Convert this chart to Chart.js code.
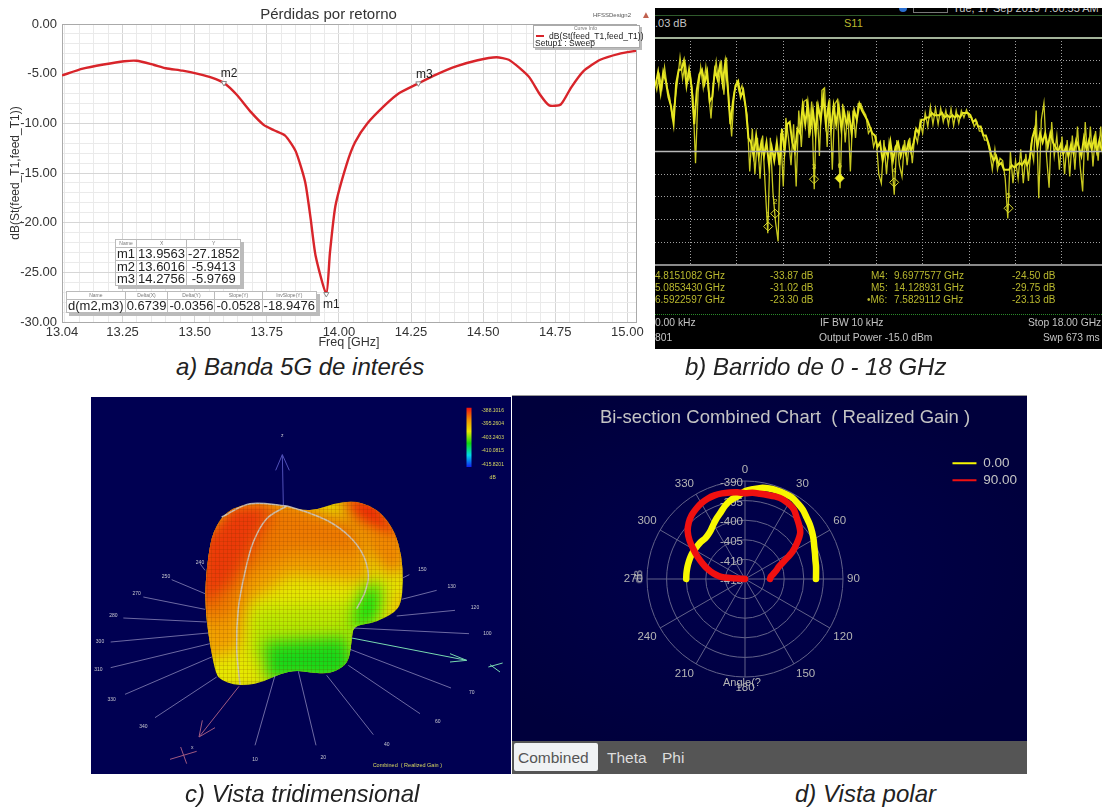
<!DOCTYPE html>
<html>
<head>
<meta charset="utf-8">
<title>Pérdidas por retorno</title>
<script src="https://cdn.jsdelivr.net/npm/chart.js@4/dist/chart.umd.js"></script>
<style>
html, body { margin: 0; background: #fff; }
body { position: relative; width: 1102px; height: 808px; overflow: hidden; font-family: "Liberation Sans", Arial, sans-serif; }
canvas { position: absolute; }
.t { position: absolute; white-space: nowrap; line-height: 1; }
.p { position: absolute; }
.cap { position: absolute; white-space: nowrap; font-style: italic; font-size: 24px; line-height: 1; color: #222; }
table.mk { position: absolute; border-collapse: collapse; background: #fff; box-shadow: 3px 3px 0 #bbb; font-size: 13px; color: #222; }
table.mk td, table.mk th { border: 1px solid #bbb; padding: 0 1px; line-height: 11.5px; text-align: center; white-space: nowrap; }
table.mk th { font-size: 5px; font-weight: normal; color: #777; line-height: 7px; }
.bt { position: absolute; white-space: nowrap; line-height: 1; font-size: 10px; color: #b9b82e; }
.bg { position: absolute; white-space: nowrap; line-height: 1; font-size: 10.3px; color: #c4c4c4; }
</style>
</head>
<body>

<!-- a) return loss -->
<canvas id="lossChart" width="650" height="350" style="left:0;top:0"></canvas>
<div class="t" style="left:593px;top:12px;font-size:6px;color:#555">HFSSDesign2</div>
<div class="t" style="left:641px;top:10px;font-size:10px;color:#c0604e">▲</div>
<div class="p" style="left:533px;top:25px;width:105px;height:21px;background:#fff;border:1px solid #aaa;box-shadow:2px 2px 0 #bbb"></div>
<div class="t" style="left:574px;top:26px;font-size:5px;color:#777">Curve Info</div>
<div class="p" style="left:536px;top:35px;width:8px;height:2px;background:#d8242a"></div>
<div class="t" style="left:549px;top:32px;font-size:8.5px;color:#222">dB(St(feed_T1,feed_T1))</div>
<div class="t" style="left:535px;top:39px;font-size:8.5px;color:#222">Setup1 : Sweep</div>
<table class="mk" style="left:115px;top:239px;width:125px">
  <tr><th style="width:24px">Name</th><th>X</th><th>Y</th></tr>
  <tr><td>m1</td><td>13.9563</td><td>-27.1852</td></tr>
  <tr><td>m2</td><td>13.6016</td><td>-5.9413</td></tr>
  <tr><td>m3</td><td>14.2756</td><td>-5.9769</td></tr>
</table>
<table class="mk" style="left:66px;top:291px;width:238px">
  <tr><th>Name</th><th>Delta(X)</th><th>Delta(Y)</th><th>Slope(Y)</th><th>InvSlope(Y)</th></tr>
  <tr><td>d(m2,m3)</td><td>0.6739</td><td>-0.0356</td><td>-0.0528</td><td>-18.9476</td></tr>
</table>

<!-- b) analyser sweep -->
<div class="p" style="left:655px;top:8px;width:447px;height:341px;background:#000"></div>
<div class="p" style="left:899px;top:8px;width:8px;height:4px;background:#2b6fd0;border-radius:0 0 4px 4px"></div>
<div class="p" style="left:913px;top:8px;width:33px;height:4px;border:1px solid #777;border-top:0"></div>
<div class="p" style="left:953px;top:8px;width:147px;height:6px;overflow:hidden"><div class="t" style="left:0;top:-5px;font-size:11px;color:#ccc">Tue, 17 Sep 2019 7:00:55 AM</div></div>
<div class="p" style="left:655px;top:15px;width:447px;height:1px;background:#2f5a2c"></div>
<div class="bg" style="left:655px;top:18px;font-size:11px">.03 dB</div>
<div class="bt" style="left:844px;top:18px;font-size:11px">S11</div>
<canvas id="sweepChart" width="447" height="227" style="left:655px;top:38px"></canvas>
<div class="p" style="left:655px;top:37px;width:447px;height:2px;background:#a3b39a"></div>
<div class="p" style="left:655px;top:264px;width:447px;height:2px;background:#8a8a8a"></div>
<div class="bt" style="left:655px;top:271px">4.8151082 GHz</div><div class="bt" style="left:770px;top:271px">-33.87 dB</div>
<div class="bt" style="left:871px;top:271px">M4:</div><div class="bt" style="left:894px;top:271px">9.6977577 GHz</div><div class="bt" style="left:1012px;top:271px">-24.50 dB</div>
<div class="bt" style="left:655px;top:283px">5.0853430 GHz</div><div class="bt" style="left:770px;top:283px">-31.02 dB</div>
<div class="bt" style="left:871px;top:283px">M5:</div><div class="bt" style="left:894px;top:283px">14.128931 GHz</div><div class="bt" style="left:1012px;top:283px">-29.75 dB</div>
<div class="bt" style="left:655px;top:295px">6.5922597 GHz</div><div class="bt" style="left:770px;top:295px">-23.30 dB</div>
<div class="bt" style="left:867px;top:295px">•M6:</div><div class="bt" style="left:894px;top:295px">7.5829112 GHz</div><div class="bt" style="left:1012px;top:295px">-23.13 dB</div>
<div class="p" style="left:655px;top:314px;width:447px;height:0;border-top:1px dotted #2a8a2a"></div>
<div class="bg" style="left:655px;top:318px">0.00 kHz</div><div class="bg" style="left:820px;top:318px">IF BW 10 kHz</div><div class="bg" style="left:1028px;top:318px">Stop 18.00 GHz</div>
<div class="bg" style="left:655px;top:333px">801</div><div class="bg" style="left:819px;top:333px">Output Power -15.0 dBm</div><div class="bg" style="left:1043px;top:333px">Swp 673 ms</div>

<!-- c) 3D pattern -->
<div class="p" style="left:91px;top:397px;width:420px;height:377px;background:#000052"></div>
<canvas id="lobeChart" width="420" height="377" style="left:91px;top:397px"></canvas>
<canvas id="axesChart" width="420" height="377" style="left:91px;top:397px"></canvas>

<!-- d) polar cut -->
<div class="p" style="left:512px;top:395px;width:515px;height:346px;background:radial-gradient(ellipse at 45% 50%,#00004e 0%,#00003c 80%);border-top:1px solid #999;box-sizing:border-box"></div>
<canvas id="polarChart" width="515" height="346" style="left:512px;top:395px"></canvas>
<div class="t" style="left:723px;top:677px;font-size:11px;color:#b4b4b4">Angle(?</div>
<div class="t" style="left:632px;top:571px;font-size:11px;color:#b4b4b4;transform:rotate(-90deg)">dB</div>
<div class="p" style="left:512px;top:741px;width:515px;height:33px;background:#555"></div>
<div class="p" style="left:514px;top:743px;width:84px;height:28px;background:#f0f2f4;border-radius:2px"></div>
<div class="t" style="left:518px;top:750px;font-size:15.5px;color:#555">Combined</div>
<div class="t" style="left:607px;top:750px;font-size:15.5px;color:#ddd">Theta</div>
<div class="t" style="left:662px;top:750px;font-size:15.5px;color:#ddd">Phi</div>

<div class="cap" style="left:176px;top:355px">a) Banda 5G de interés</div>
<div class="cap" style="left:685px;top:355px">b) Barrido de 0 - 18 GHz</div>
<div class="cap" style="left:185px;top:782px">c) Vista tridimensional</div>
<div class="cap" style="left:795px;top:782px">d) Vista polar</div>

<script>
// a) return loss
const freqGHz = [13.04, 13.112, 13.184, 13.256, 13.299, 13.357, 13.40, 13.458, 13.515, 13.559, 13.6016, 13.645, 13.696, 13.739, 13.775, 13.814, 13.85, 13.883, 13.902, 13.919, 13.9563, 13.969, 13.988, 14.027, 14.056, 14.099, 14.157, 14.207, 14.2756, 14.337, 14.409, 14.481, 14.546, 14.589, 14.625, 14.661, 14.697, 14.729, 14.769, 14.805, 14.848, 14.906, 14.971, 15.033];
const returnLossDb = [-5.18, -4.5, -4.08, -3.75, -3.7, -4.1, -4.45, -4.7, -5.05, -5.4, -5.94, -7.1, -8.9, -10.15, -10.7, -11.25, -12.8, -15.9, -19.6, -23.3, -27.19, -23, -18.3, -14.1, -11.9, -10.0, -8.25, -7.0, -5.98, -5.1, -4.25, -3.65, -3.35, -3.6, -4.4, -5.4, -7.1, -8.2, -8.1, -6.4, -4.75, -3.6, -3.0, -2.68];
const lossMarkerNames = ['m1', 'm2', 'm3'];
const lossMarkerGHz = [13.9563, 13.6016, 14.2756];
const lossMarkerDb = [-27.1852, -5.9413, -5.9769];
const freqTicks = [13.04, 13.25, 13.50, 13.75, 14.00, 14.25, 14.50, 14.75, 15.00];
const lossTicks = [0, -5, -10, -15, -20, -25, -30];

// b) S11 sweep, readings every 0.05 GHz split into two passes
const sweepGHz = [0.4, 0.5, 0.6, 0.7, 0.8, 0.9, 1.0, 1.1, 1.2, 1.3, 1.4, 1.5, 1.6, 1.7, 1.8, 1.9, 2.0, 2.1, 2.2, 2.3, 2.4, 2.5, 2.6, 2.7, 2.8, 2.9, 3.0, 3.1, 3.2, 3.3, 3.4, 3.5, 3.6, 3.7, 3.8, 3.9, 4.0, 4.1, 4.2, 4.3, 4.4, 4.5, 4.6, 4.7, 4.8, 4.9, 5.0, 5.1, 5.2, 5.3, 5.4, 5.5, 5.6, 5.7, 5.8, 5.9, 6.0, 6.1, 6.2, 6.3, 6.4, 6.5, 6.6, 6.7, 6.8, 6.9, 7.0, 7.1, 7.2, 7.3, 7.4, 7.5, 7.6, 7.7, 7.8, 7.9, 8.0, 8.1, 8.2, 8.3, 8.4, 8.5, 8.6, 8.7, 8.8, 8.9, 9.0, 9.1, 9.2, 9.3, 9.4, 9.5, 9.6, 9.7, 9.8, 9.9, 10.0, 10.1, 10.2, 10.3, 10.4, 10.5, 10.6, 10.7, 10.8, 10.9, 11.0, 11.1, 11.2, 11.3, 11.4, 11.5, 11.6, 11.7, 11.8, 11.9, 12.0, 12.1, 12.2, 12.3, 12.4, 12.5, 12.6, 12.7, 12.8, 12.9, 13.0, 13.1, 13.2, 13.3, 13.4, 13.5, 13.6, 13.7, 13.8, 13.9, 14.0, 14.1, 14.2, 14.3, 14.4, 14.5, 14.6, 14.7, 14.8, 14.9, 15.0, 15.1, 15.2, 15.3, 15.4, 15.5, 15.6, 15.7, 15.8, 15.9, 16.0, 16.1, 16.2, 16.3, 16.4, 16.5, 16.6, 16.7, 16.8, 16.9, 17.0, 17.1, 17.2, 17.3, 17.4, 17.5, 17.6, 17.7, 17.8];
const sweepDb = [1.0, -1.5, 1.8, -1.0, 3.6, -0.8, -3.2, -7.5, -4.0, 0.4, 5.8, 1.0, 4.5, 0.5, 2.0, -3.0, -17.6, -2.0, 3.6, -1.0, 3.7, -1.5, -7.7, 0.4, 4.8, -0.5, 5.0, -2.5, 5.7, -4.7, -11.7, -2.0, 0.4, -2.0, -0.5, -4.0, -7.0, -19.4, -10, -20, -12, -21, -11.5, -22.7, -33, -12, -24, -30.5, -34.8, -11, -22.7, -7.6, -12, -18, -9, -22.7, -6, -14, -4, -3.6, -12, -4, -23.3, -4, -16, -1.5, -1, -14, -3.5, -19, -4.5, -3.6, -23.1, -4.5, -13, -6, -19.4, -6, -12, -4.5, -4.4, -6, -7, -11, -10, -14, -12, -20, -22, -12.5, -20, -13, -17, -24.5, -12.5, -18, -20.5, -12.5, -18, -12, -17.6, -11, -13, -8.5, -11, -6.5, -9.5, -5.1, -9, -5.5, -9, -5.5, -8.5, -6, -9.2, -5.6, -9.3, -6, -8.8, -6, -7.5, -5.8, -7.5, -7.5, -9.5, -8.5, -10.5, -10.5, -12.5, -12.5, -15, -19, -14.5, -19, -16.5, -17, -21, -29.75, -15, -22, -17, -21, -14.5, -22, -15.5, -21.5, -14, -17, -6, -25.3, -8, -4.3, -16, -23, -8.5, -16, -11.5, -19, -11.7, -20, -12.5, -20.5, -11.5, -19, -9.5, -18, -23.8, -8.5, -17, -9.5, -18.3, -10.5, -17, -9.5, -18];
const sweepFineGHz = [0.45, 0.55, 0.65, 0.75, 0.85, 0.95, 1.05, 1.15, 1.25, 1.35, 1.45, 1.55, 1.65, 1.75, 1.85, 1.95, 2.05, 2.15, 2.25, 2.35, 2.45, 2.55, 2.65, 2.75, 2.85, 2.95, 3.05, 3.15, 3.25, 3.35, 3.45, 3.55, 3.65, 3.75, 3.85, 3.95, 4.05, 4.15, 4.25, 4.35, 4.45, 4.55, 4.65, 4.75, 4.85, 4.95, 5.05, 5.15, 5.25, 5.35, 5.45, 5.55, 5.65, 5.75, 5.85, 5.95, 6.05, 6.15, 6.25, 6.35, 6.45, 6.55, 6.65, 6.75, 6.85, 6.95, 7.05, 7.15, 7.25, 7.35, 7.45, 7.55, 7.65, 7.75, 7.85, 7.95, 8.05, 8.15, 8.25, 8.35, 8.45, 8.55, 8.65, 8.75, 8.85, 8.95, 9.05, 9.15, 9.25, 9.35, 9.45, 9.55, 9.65, 9.75, 9.85, 9.95, 10.05, 10.15, 10.25, 10.35, 10.45, 10.55, 10.65, 10.75, 10.85, 10.95, 11.05, 11.15, 11.25, 11.35, 11.45, 11.55, 11.65, 11.75, 11.85, 11.95, 12.05, 12.15, 12.25, 12.35, 12.45, 12.55, 12.65, 12.75, 12.85, 12.95, 13.05, 13.15, 13.25, 13.35, 13.45, 13.55, 13.65, 13.75, 13.85, 13.95, 14.05, 14.15, 14.25, 14.35, 14.45, 14.55, 14.65, 14.75, 14.85, 14.95, 15.05, 15.15, 15.25, 15.35, 15.45, 15.55, 15.65, 15.75, 15.85, 15.95, 16.05, 16.15, 16.25, 16.35, 16.45, 16.55, 16.65, 16.75, 16.85, 16.95, 17.05, 17.15, 17.25, 17.35, 17.45, 17.55, 17.65, 17.75];
const sweepFineDb = [-0.5, 2.5, -2, 2.5, 0.5, -3, -5, -8.8, 0, 3, 3, 5, -0.5, 3, -1, -9, -1.5, 2, 3, 0, 2.5, -4, -3, 3, 1, 4, 0, 4.5, -1, -9, -4, -0.5, 0.5, -3, -1.5, -5.5, -12, -13, -16, -11.5, -16, -13, -16, -13, -18, -14, -17, -13, -18, -10, -15, -9, -8.5, -13, -15, -10, -11, -5, -9, -4.5, -10, -6, -11, -5, -8, -3, -9, -5, -10, -5, -9, -5, -10, -6, -9, -7, -11, -6, -8, -4.5, -6, -7, -8, -9.5, -11, -11.5, -14, -13, -17, -14.5, -16, -12.8, -17, -14, -13, -16, -14, -15.5, -13, -15, -13, -10, -11, -8, -8, -7.5, -7.5, -6.5, -7, -7, -7, -6.5, -7.5, -7, -7.5, -7, -7.5, -7, -7.5, -6.5, -6.5, -6.5, -7, -8.5, -8, -9.5, -9.5, -11.5, -11.5, -13.2, -15.5, -17, -16, -18, -17.5, -19, -19, -19, -18, -18.5, -18, -17.5, -18, -17, -18, -16.5, -12, -10, -14, -11, -13, -11, -14, -11, -13, -14, -15, -13.5, -15.5, -14, -16, -13.5, -15.5, -12.5, -14, -16, -12, -14.5, -12.5, -14.5, -12, -15, -12.5, -15];
const sweepMarkerNames = ['1', '2', '3', '4', '5', '6'];
const sweepMarkerGHz = [4.815, 5.085, 6.592, 9.698, 14.129, 7.583];
const sweepMarkerDb = [-31.5, -28.7, -21.1, -21.8, -27.5, -20.9];
const sweepGridGHz = [1.8, 3.6, 5.4, 7.2, 9, 10.8, 12.6, 14.4, 16.2];

// c) 3D pattern, traced in crop units
const lobeX = [360, 370, 395, 430, 480, 540, 585, 640, 680, 730, 790, 840, 880, 915, 935, 940, 933, 915, 880, 840, 790, 785, 778, 760, 720, 660, 620, 570, 520, 470, 430, 395, 378, 362, 350, 345, 350];
const lobeY = [450, 410, 365, 338, 325, 325, 332, 345, 343, 325, 317, 330, 360, 410, 480, 560, 625, 650, 670, 685, 692, 735, 790, 815, 835, 832, 825, 835, 860, 870, 868, 855, 838, 760, 680, 600, 520];
const lobePatches = [
  { color: '#e6e800', x: [300, 980, 980, 300], y: [280, 280, 900, 900] },
  { color: '#f2a000', x: [330, 600, 830, 840, 600, 480, 450, 330], y: [560, 420, 440, 560, 540, 620, 760, 800] },
  { color: '#ee7a00', x: [330, 590, 800, 830, 610, 470, 430, 330], y: [440, 310, 380, 480, 470, 540, 660, 690] },
  { color: '#ec3a08', x: [330, 420, 560, 500, 430, 330], y: [440, 320, 320, 440, 560, 640] },
  { color: '#ee2a05', x: [740, 860, 950, 900, 800], y: [300, 300, 430, 460, 380] },
  { color: '#f08800', x: [790, 950, 955, 890, 835], y: [390, 420, 520, 540, 470] },
  { color: '#f2b000', x: [920, 950, 900], y: [570, 650, 665] },
  { color: '#b8e800', x: [490, 800, 800, 480], y: [640, 620, 780, 790] },
  { color: '#18d818', x: [520, 770, 800, 720, 620, 530], y: [740, 725, 830, 860, 850, 860] },
  { color: '#10e010', x: [785, 800, 835, 875, 865, 820], y: [705, 620, 565, 575, 670, 705] }
];
const sectionCurves = [
  { x: [590, 530, 490, 465, 445, 440, 450], y: [332, 370, 440, 530, 640, 760, 868] },
  { x: [590, 650, 720, 780, 820, 835, 825, 800], y: [332, 350, 380, 425, 480, 540, 590, 640] },
  { x: [395, 480, 590], y: [365, 325, 332] }
];
const spokes = [
  [330, 345, 505, 525], [245, 345, 553, 595], [160, 345, 605, 642], [100, 350, 668, 680], [62, 355, 740, 713], [62, 360, 817, 745], [105, 365, 897, 785], [195, 380, 967, 845],
  [495, 555, 1050, 840], [678, 625, 1050, 828], [850, 710, 1018, 840], [990, 775, 955, 810], [1083, 780, 878, 762], [1137, 790, 715, 698], [1095, 920, 645, 662], [1040, 935, 585, 612], [958, 938, 538, 548]
];
const spokeNames = ['240', '250', '270', '280', '300', '310', '330', '340', '10', '20', '40', '60', '70', '100', '120', '130', '150'];
const spokeNameX = [330, 228, 140, 70, 30, 25, 65, 160, 495, 700, 890, 1043, 1145, 1192, 1155, 1085, 997];
const spokeNameY = [503, 543, 596, 662, 738, 823, 913, 993, 1092, 1088, 1048, 980, 893, 715, 638, 573, 523];
const scaleNames = ['-388.1016', '-395.2604', '-403.2403', '-410.0815', '-415.8201', 'dB'];
const scaleNameY = [45, 86, 126, 167, 207, 248];

// d) polar cut, 5 degree steps, gap behind the antenna
const polarAngles = ['0', '5', '10', '15', '20', '25', '30', '35', '40', '45', '50', '55', '60', '65', '70', '75', '80', '85', '90', '95', '100', '105', '110', '115', '120', '125', '130', '135', '140', '145', '150', '155', '160', '165', '170', '175', '180', '185', '190', '195', '200', '205', '210', '215', '220', '225', '230', '235', '240', '245', '250', '255', '260', '265', '270', '275', '280', '285', '290', '295', '300', '305', '310', '315', '320', '325', '330', '335', '340', '345', '350', '355'];
const cutZeroFront = [-392.6, -392.0, -391.4, -391.1, -391.0, -391.0, -391.0, -391.5, -392.0, -392.8, -393.4, -394.1, -394.8, -395.5, -396.0, -396.4, -396.6, -396.8, -396.9];
const cutZeroBack = [-400, -400, -400, -400, -400, -400, -400.1, -400.2, -400.3, -400.5, -400.3, -399.8, -398.9, -397.9, -396.9, -395.6, -394.5, -393.8];
const cutNinetyFront = [-393.1, -392.9, -392.9, -392.8, -392.6, -392.5, -392.8, -393.3, -394.5, -395.5, -396.6, -398.7, -401, -403.8, -405.8, -406.8, -407.7, -408.4, -408.6];
const cutNinetyBack = [-415, -409, -406.8, -405.1, -403.5, -401.7, -399.8, -397.7, -395.9, -394.7, -393.8, -393.2, -392.7, -392.4, -392.3, -392.4, -392.6, -392.8];
const polarRings = [-390, -395, -400, -405, -410, -415];

const sansFont = '"Liberation Sans", Arial, sans-serif';

const notes = {
  id: 'notes',
  afterDatasetsDraw(chart, args, opts) {
    const { ctx, scales } = chart;
    (opts.items || []).forEach(n => {
      ctx.save();
      ctx.font = n.font || opts.font;
      ctx.fillStyle = n.color || opts.color;
      ctx.textAlign = 'center';
      ctx.textBaseline = 'middle';
      ctx.fillText(n.text, scales.x.getPixelForValue(n.x) + (n.dx || 0), scales.y.getPixelForValue(n.y) + (n.dy || 0));
      ctx.restore();
    });
  }
};

// a) ----------------------------------------------------------------
const freqAll = [13.04, 15.03];
for (let i = 0; i < 40; i++) freqAll.push(13.05 + i * 0.05);
const lossAll = [];
for (let i = 0; i <= 30; i++) lossAll.push(-i);

new Chart(document.getElementById('lossChart'), {
  type: 'line',
  data: {
    datasets: [
      {
        label: 'markers',
        data: lossMarkerGHz.map((x, i) => ({ x, y: lossMarkerDb[i] })),
        showLine: false,
        pointStyle: 'triangle',
        rotation: 180,
        pointRadius: 3,
        pointBorderColor: '#888',
        pointBackgroundColor: '#fff',
        pointBorderWidth: 1
      },
      {
        label: 'dB(St(feed_T1,feed_T1))',
        data: freqGHz.map((x, i) => ({ x, y: returnLossDb[i] })),
        borderColor: '#d8242a',
        borderWidth: 2.4,
        pointRadius: 0,
        tension: 0.2
      }
    ]
  },
  options: {
    responsive: false,
    animation: false,
    layout: { autoPadding: false, padding: { right: 14, top: 24 } },
    plugins: {
      legend: { display: false },
      tooltip: { enabled: false },
      notes: {
        font: '12px ' + sansFont,
        color: '#222',
        items: [
          { text: lossMarkerNames[0], x: lossMarkerGHz[0], y: lossMarkerDb[0], dx: 5, dy: 11 },
          { text: lossMarkerNames[1], x: lossMarkerGHz[1], y: lossMarkerDb[1], dx: 5, dy: -9 },
          { text: lossMarkerNames[2], x: lossMarkerGHz[2], y: lossMarkerDb[2], dx: 6, dy: -9 },
          { text: 'Pérdidas por retorno', x: 13.964, y: 0, dy: -9, font: '15px ' + sansFont, color: '#333' }
        ]
      }
    },
    scales: {
      x: {
        type: 'linear',
        min: 13.04,
        max: 15.03,
        afterFit: s => { s.height = 28; },
        afterBuildTicks: s => { s.ticks = freqAll.map(value => ({ value: +value.toFixed(2) })); },
        grid: {
          color: c => (c.tick.value === 15.03 ? '#aaa' : freqTicks.includes(c.tick.value) ? '#d6d6d6' : '#eaeaea'),
          drawTicks: false
        },
        border: { color: '#aaa' },
        title: { display: true, text: 'Freq [GHz]', color: '#333', font: { family: sansFont, size: 12.5 }, padding: 0 },
        ticks: {
          autoSkip: false,
          maxRotation: 0,
          padding: 3,
          color: '#333',
          font: { family: sansFont, size: 13 },
          callback: v => (freqTicks.includes(v) ? v.toFixed(2) : '')
        }
      },
      y: {
        min: -30,
        max: 0,
        afterFit: s => { s.width = 62; },
        afterBuildTicks: s => { s.ticks = lossAll.map(value => ({ value })); },
        grid: {
          color: c => (c.tick.value === 0 ? '#aaa' : lossTicks.includes(c.tick.value) ? '#d6d6d6' : '#eaeaea'),
          drawTicks: false
        },
        border: { color: '#aaa' },
        title: { display: true, text: 'dB(St(feed_T1,feed_T1))', color: '#333', font: { family: sansFont, size: 12 }, padding: { top: 8, bottom: 0 } },
        ticks: {
          autoSkip: false,
          padding: 5,
          color: '#333',
          font: { family: sansFont, size: 13 },
          callback: v => (lossTicks.includes(v) ? v.toFixed(2) : '')
        }
      }
    }
  },
  plugins: [notes]
});

// b) ----------------------------------------------------------------
new Chart(document.getElementById('sweepChart'), {
  type: 'line',
  data: {
    datasets: [
      {
        label: 'ref',
        data: [{ x: 0.43, y: -15 }, { x: 17.75, y: -15 }],
        borderColor: '#b8b8b8',
        borderWidth: 1.5,
        pointRadius: 0,
        order: 0
      },
      {
        label: 'markers',
        data: sweepMarkerGHz.map((x, i) => ({ x, y: sweepMarkerDb[i] })),
        showLine: false,
        pointStyle: 'rectRot',
        pointRadius: 4.5,
        pointBorderWidth: 1,
        pointBorderColor: '#dcdc30',
        pointBackgroundColor: ['transparent', 'transparent', 'transparent', 'transparent', 'transparent', '#f0f020'],
        order: 1
      },
      {
        label: 'S11 band',
        data: sweepFineGHz.map((x, i) => ({ x, y: sweepFineDb[i] })),
        borderColor: '#e6e622',
        borderWidth: 2,
        pointRadius: 0,
        order: 2
      },
      {
        label: 'S11',
        data: sweepGHz.map((x, i) => ({ x, y: sweepDb[i] })),
        borderColor: '#c8c820',
        borderWidth: 1.3,
        pointRadius: 0,
        order: 3
      }
    ]
  },
  options: {
    responsive: false,
    animation: false,
    layout: { autoPadding: false },
    plugins: {
      legend: { display: false },
      tooltip: { enabled: false },
      notes: {
        font: '8px ' + sansFont,
        color: '#d8d830',
        items: sweepMarkerNames.map((text, i) => ({ text, x: sweepMarkerGHz[i], y: sweepMarkerDb[i], dy: -12 }))
      }
    },
    scales: {
      x: {
        type: 'linear',
        min: 0.43,
        max: 17.75,
        afterBuildTicks: s => { s.ticks = sweepGridGHz.map(value => ({ value })); },
        grid: { color: '#a0a0a0', drawTicks: false },
        border: { display: false, dash: [1, 2] },
        ticks: { display: false }
      },
      y: {
        min: -40,
        max: 10,
        grid: { color: '#a0a0a0', drawTicks: false },
        border: { display: false, dash: [1, 2] },
        ticks: { display: false, stepSize: 5 }
      }
    }
  },
  plugins: [notes]
});

// c) ----------------------------------------------------------------
const cropScales = {
  x: { type: 'linear', display: false, min: 3, max: 1263 },
  y: { type: 'linear', display: false, min: 5, max: 1136, reverse: true }
};

// smooth closed path through the traced outline
function tracePath(chart) {
  const { ctx, scales } = chart;
  const pts = lobeX.map((x, i) => [scales.x.getPixelForValue(x), scales.y.getPixelForValue(lobeY[i])]);
  const mid = (a, b) => [(a[0] + b[0]) / 2, (a[1] + b[1]) / 2];
  let m = mid(pts[pts.length - 1], pts[0]);
  ctx.beginPath();
  ctx.moveTo(m[0], m[1]);
  pts.forEach((p, i) => {
    m = mid(p, pts[(i + 1) % pts.length]);
    ctx.quadraticCurveTo(p[0], p[1], m[0], m[1]);
  });
  ctx.closePath();
}

// soft colour zones, kept inside the lobe outline
const softClip = {
  id: 'softClip',
  beforeDatasetsDraw(chart) {
    chart.ctx.save();
    tracePath(chart);
    chart.ctx.clip();
    chart.ctx.filter = 'blur(8px)';
  },
  afterDatasetsDraw(chart) {
    chart.ctx.restore();
  }
};

new Chart(document.getElementById('lobeChart'), {
  type: 'scatter',
  data: {
    datasets: lobePatches.slice().reverse().map(p => ({
      data: p.x.map((x, i) => ({ x, y: p.y[i] })),
      showLine: true,
      fill: 'shape',
      backgroundColor: p.color,
      borderWidth: 0,
      pointRadius: 0
    }))
  },
  options: {
    responsive: false,
    animation: false,
    layout: { autoPadding: false },
    plugins: { legend: { display: false }, tooltip: { enabled: false } },
    scales: cropScales
  },
  plugins: [softClip]
});

const meshTile = document.createElement('canvas');
meshTile.width = 4;
meshTile.height = 4;
const tileCtx = meshTile.getContext('2d');
tileCtx.fillStyle = 'rgba(110,50,0,0.15)';
tileCtx.fillRect(0, 0, 4, 1);
tileCtx.fillRect(0, 0, 1, 4);
const meshPattern = tileCtx.createPattern(meshTile, 'repeat');

const scaleBar = document.getElementById('axesChart').getContext('2d').createLinearGradient(0, 10.7, 0, 70);
['#f01010', '#f09000', '#e8e800', '#10d810', '#00d8e8', '#1020f0'].forEach((col, i) => scaleBar.addColorStop(i / 5, col));

function polySet(xs, ys, color, width) {
  return {
    data: xs.map((x, i) => ({ x, y: ys[i] })),
    showLine: true,
    borderColor: color,
    borderWidth: width,
    pointRadius: 0
  };
}

const axesSets = [
  {
    data: lobeX.map((x, i) => ({ x, y: lobeY[i] })),
    showLine: true,
    fill: 'shape',
    tension: 0.4,
    backgroundColor: meshPattern,
    borderWidth: 0,
    pointRadius: 0
  }
];
sectionCurves.forEach(c => axesSets.push({ ...polySet(c.x, c.y, 'rgba(205,200,190,0.9)', 1.5), tension: 0.35 }));
spokes.forEach(s => axesSets.push(polySet([s[0], s[1]], [s[2], s[3]], 'rgba(170,165,210,0.8)', 0.8)));
axesSets.push(polySet([580, 577], [330, 178], '#4f4fb8', 1));
axesSets.push(polySet([557, 577, 598], [225, 178, 225], '#4f4fb8', 1));
axesSets.push(polySet([447, 327], [873, 1025], '#a05a80', 1));
axesSets.push(polySet([375, 327, 337], [997, 1025, 975], '#a05a80', 1));
axesSets.push(polySet([785, 1130], [728, 795], '#78d8b0', 1));
axesSets.push(polySet([1080, 1130, 1080], [775, 795, 800], '#78d8b0', 1));
axesSets.push(polySet([240, 320], [1092, 1068], '#a05a80', 1));
axesSets.push(polySet([272, 290], [1055, 1105], '#a05a80', 1));
axesSets.push(polySet([1195, 1238], [815, 803], '#78d8b0', 1));
axesSets.push(polySet([1200, 1230], [808, 830], '#78d8b0', 1));
axesSets.push(polySet([1137, 1137], [37, 215], scaleBar, 5));

const cropNotes = spokeNames.map((text, i) => ({ text, x: spokeNameX[i], y: spokeNameY[i], color: '#c8c8d0' }));
scaleNames.forEach((text, i) => cropNotes.push({ text, x: 1208, y: scaleNameY[i], color: '#d8d860' }));
cropNotes.push({ text: 'z', x: 577, y: 122, color: '#c8c8d0' });
cropNotes.push({ text: 'x', x: 307, y: 1057, color: '#c8c8d0' });
cropNotes.push({ text: 'Combined  ( Realized Gain )', x: 952, y: 1110, color: '#d8d860', font: '5.5px ' + sansFont });

new Chart(document.getElementById('axesChart'), {
  type: 'scatter',
  data: { datasets: axesSets },
  options: {
    responsive: false,
    animation: false,
    layout: { autoPadding: false },
    plugins: {
      legend: { display: false },
      tooltip: { enabled: false },
      notes: { font: '5px ' + sansFont, color: '#c8c8d0', items: cropNotes }
    },
    scales: cropScales
  },
  plugins: [notes]
});

// d) ----------------------------------------------------------------
const rearGap = polarAngles.length - cutZeroFront.length - cutZeroBack.length;

const ringLabels = {
  id: 'ringLabels',
  beforeDatasetsDraw(chart) {
    const { ctx } = chart;
    const r = chart.scales.r;
    ctx.save();
    ctx.font = '18.5px ' + sansFont;
    ctx.fillStyle = '#c4c4c4';
    ctx.textAlign = 'center';
    ctx.textBaseline = 'middle';
    ctx.fillText('Bi-section Combined Chart  ( Realized Gain )', 273, 23);
    ctx.font = '11.5px ' + sansFont;
    ctx.fillStyle = '#b4b4b4';
    ctx.textAlign = 'right';
    polarRings.forEach(v => {
      const p = r.getPointPositionForValue(0, v);
      ctx.fillText(String(v), p.x - 2, p.y + 2);
    });
    ctx.restore();
  }
};

new Chart(document.getElementById('polarChart'), {
  type: 'radar',
  data: {
    labels: polarAngles,
    datasets: [
      {
        label: '0.00',
        data: [...cutZeroFront, ...new Array(rearGap).fill(null), ...cutZeroBack],
        borderColor: '#f8f800',
        backgroundColor: '#f8f800',
        borderWidth: 6.5,
        borderCapStyle: 'round',
        pointRadius: 0,
        tension: 0.3,
        fill: false,
        order: 2
      },
      {
        label: '90.00',
        data: [...cutNinetyFront, ...new Array(rearGap).fill(null), ...cutNinetyBack],
        borderColor: '#f01010',
        backgroundColor: '#f01010',
        borderWidth: 6.5,
        borderCapStyle: 'round',
        pointRadius: 0,
        tension: 0.3,
        fill: false,
        order: 1
      }
    ]
  },
  options: {
    responsive: false,
    animation: false,
    layout: { autoPadding: false, padding: { left: 30, top: 58, bottom: 46 } },
    plugins: {
      tooltip: { enabled: false },
      // empty spacer box: pushes the plot down without moving the legend
      title: { display: true, text: '', fullSize: false, font: { size: 1 }, padding: { top: 9, bottom: 0 } },
      legend: {
        position: 'right',
        align: 'start',
        fullSize: true,
        labels: {
          color: '#c4c4c4',
          padding: 3.5,
          font: { family: sansFont, size: 13.5 },
          sort: (a, b) => a.datasetIndex - b.datasetIndex,
          usePointStyle: true,
          pointStyleWidth: 24,
          generateLabels: chart => Chart.defaults.plugins.legend.labels.generateLabels(chart).map(l => ({ ...l, lineWidth: 2, pointStyle: 'line' }))
        }
      }
    },
    scales: {
      r: {
        min: -415,
        max: -390,
        grid: { circular: true, color: '#62628a', lineWidth: 1 },
        angleLines: { color: c => (c.index % 6 === 0 ? '#62628a' : 'transparent'), lineWidth: 1 },
        ticks: { display: false, stepSize: 5 },
        pointLabels: {
          color: '#b4b4b4',
          font: { family: sansFont, size: 11.5 },
          padding: 4,
          callback: label => (Number(label) % 30 === 0 ? label : '')
        }
      }
    }
  },
  plugins: [ringLabels]
});
</script>
</body>
</html>
